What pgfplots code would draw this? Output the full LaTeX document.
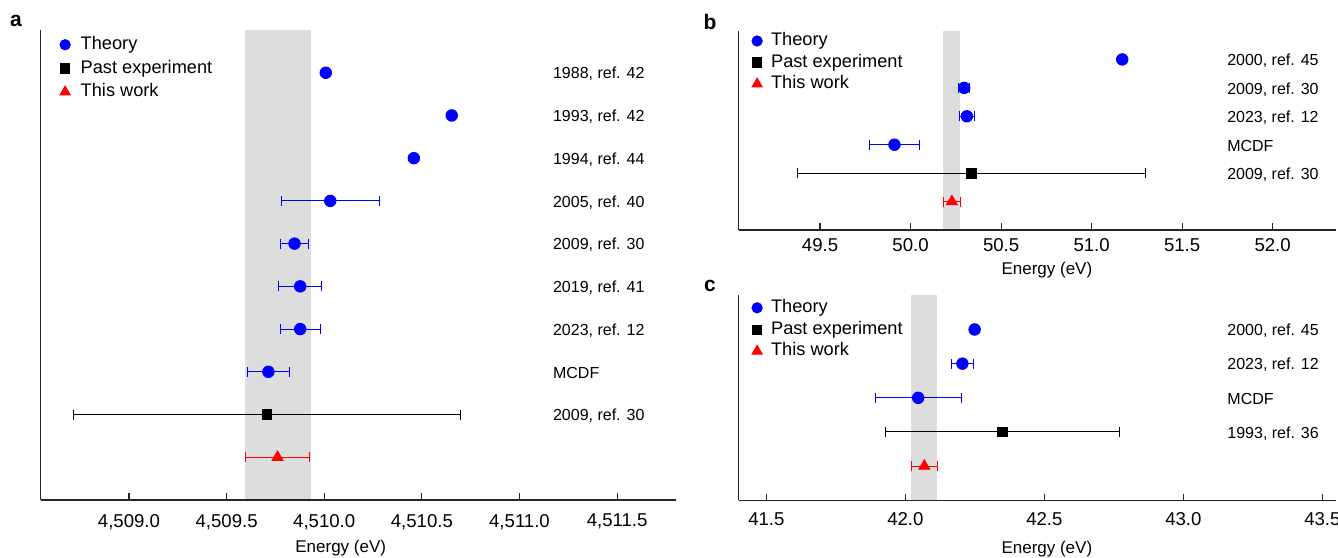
\documentclass[border=0pt]{standalone}
\usepackage{fontspec}
\setmainfont{Liberation Sans}
\usepackage{pgfplots}
\pgfplotsset{compat=1.18}
\usepackage{pgfplotstable}

\definecolor{bandgray}{RGB}{221,221,221}

% panel a
\pgfplotstableread{
y x ex
10 4510.008 0
9 4510.653 0
8 4510.459 0
7 4510.031 0.252
6 4509.848 0.072
5 4509.877 0.110
4 4509.877 0.103
3 4509.714 0.108
}\atheory
\pgfplotstableread{
y x ex
2 4509.707 0.990
}\apast
\pgfplotstableread{
y x ex
1 4509.761 0.166
}\awork

% panel b
\pgfplotstableread{
y x ex
6 51.169 0
5 50.296 0.030
4 50.311 0.040
3 49.911 0.140
}\btheory
\pgfplotstableread{
y x ex
2 50.337 0.960
}\bpast
\pgfplotstableread{
y x ex
1 50.228 0.046
}\bwork

% panel c
\pgfplotstableread{
y x ex
5 42.249 0
4 42.205 0.040
3 42.046 0.154
}\ctheory
\pgfplotstableread{
y x ex
2 42.349 0.420
}\cpast
\pgfplotstableread{
y x ex
1 42.068 0.047
}\cwork

\tikzset{
  rowlabel/.style={anchor=west, inner sep=0pt, yshift=-0.7pt, font=\fontsize{8}{9.6}\selectfont},
}

\pgfplotsset{
  panel/.style={
    scale only axis, axis lines*=left, ymin=0, ytick=\empty,
    axis line style={line width=0.6pt, black!85},
    tick style={line width=0.6pt, black!85},
    major tick length=3.3pt, tick align=inside,
    scaled x ticks=false, axis on top, clip=false,
    xticklabel style={font=\fontsize{9.3}{11}\selectfont,
      /pgf/number format/fixed, /pgf/number format/fixed zerofill,
      /pgf/number format/precision=1,
      /pgf/number format/assume math mode=true},
    xlabel={Energy (eV)},
    xlabel style={font=\fontsize{8.5}{10}\selectfont, anchor=center},
    legend cell align=left,
    legend style={draw=none, fill=none, anchor=north west,
      font=\fontsize{9.1}{11}\selectfont, inner sep=0pt, outer sep=0pt},
  },
  theory/.style={only marks, mark=*, blue, mark size=2.9pt, forget plot,
    error bars/.cd, x dir=both, x explicit,
    error bar style={line width=0.5pt, blue},
    error mark options={rotate=90, mark size=2.5pt, line width=0.5pt, blue}},
  past/.style={only marks, mark=square*, black, mark size=2.4pt, forget plot,
    error bars/.cd, x dir=both, x explicit,
    error bar style={line width=0.5pt, black},
    error mark options={rotate=90, mark size=2.5pt, line width=0.5pt, black}},
  work/.style={only marks, mark=triangle*, red, mark size=3.2pt, forget plot,
    error bars/.cd, x dir=both, x explicit,
    error bar style={line width=0.5pt, red},
    error mark options={rotate=90, mark size=2.5pt, line width=0.5pt, red}},
}

\newcommand{\legendimages}{%
  \addlegendimage{only marks, mark=*, blue, mark size=2.6pt}
  \addlegendentry{Theory}
  \addlegendimage{only marks, mark=square*, black, mark size=2.3pt}
  \addlegendentry{Past experiment}
  \addlegendimage{only marks, mark=triangle*, red, mark size=3.0pt}
  \addlegendentry{This work}
}

\begin{document}
\begin{tikzpicture}
\useasboundingbox (0,0) rectangle (669pt,278.5pt);

% ---------- a ----------
\begin{axis}[panel,
  at={(20.25pt,28.5pt)}, anchor=south west,
  width=317.6pt, height=235pt,
  xmin=4508.547, xmax=4511.80, ymax=11,
  xtick={4509.0,4509.5,4510.0,4510.5,4511.0,4511.5},
  xticklabel style={yshift=-3.5pt, /pgf/number format/1000 sep={,}},
  xlabel style={at={(axis description cs:0.4726,0)}, yshift=-24pt},
  legend style={at={(axis description cs:0.0306,0.9867)}, row sep=3.3pt,
    nodes={inner xsep=5.2pt, inner ysep=0pt, text height=6.6pt, text depth=1.9pt}},
]
\addplot[draw=none, fill=bandgray, forget plot] coordinates
  {(4509.596,0) (4509.930,0) (4509.930,11) (4509.596,11)} -- cycle;
\addplot[theory] table[x=x, y=y, x error=ex] {\atheory};
\addplot[past] table[x=x, y=y, x error=ex] {\apast};
\addplot[work] table[x=x, y=y, x error=ex] {\awork};
\legendimages
\node[rowlabel] at (axis cs:4511.17,10) {1988, ref. 42};
\node[rowlabel] at (axis cs:4511.17,9) {1993, ref. 42};
\node[rowlabel] at (axis cs:4511.17,8) {1994, ref. 44};
\node[rowlabel] at (axis cs:4511.17,7) {2005, ref. 40};
\node[rowlabel] at (axis cs:4511.17,6) {2009, ref. 30};
\node[rowlabel] at (axis cs:4511.17,5) {2019, ref. 41};
\node[rowlabel] at (axis cs:4511.17,4) {2023, ref. 12};
\node[rowlabel] at (axis cs:4511.17,3) {MCDF};
\node[rowlabel] at (axis cs:4511.17,2) {2009, ref. 30};
\end{axis}
\node[font=\fontsize{10.5}{12}\selectfont\bfseries] at (8pt,268.15pt) {a};

% ---------- b ----------
\begin{axis}[panel,
  at={(369.3pt,163.5pt)}, anchor=south west,
  width=298.7pt, height=99.5pt,
  xmin=49.05, xmax=52.35, ymax=7,
  xtick={49.5,50.0,50.5,51.0,51.5,52.0},
  xticklabel style={yshift=-0.65pt},
  xlabel style={at={(axis description cs:0.516,0)}, yshift=-20pt},
  legend style={at={(axis description cs:0.0223,0.9925)}, row sep=2.25pt,
    nodes={inner xsep=4.4pt, inner ysep=0pt, text height=6.6pt, text depth=1.9pt}},
]
\addplot[draw=none, fill=bandgray, forget plot] coordinates
  {(50.181,0) (50.275,0) (50.275,7) (50.181,7)} -- cycle;
\addplot[theory] table[x=x, y=y, x error=ex] {\btheory};
\addplot[past] table[x=x, y=y, x error=ex] {\bpast};
\addplot[work] table[x=x, y=y, x error=ex] {\bwork};
\legendimages
\node[rowlabel] at (axis cs:51.747,6) {2000, ref. 45};
\node[rowlabel] at (axis cs:51.747,5) {2009, ref. 30};
\node[rowlabel] at (axis cs:51.747,4) {2023, ref. 12};
\node[rowlabel] at (axis cs:51.747,3) {MCDF};
\node[rowlabel] at (axis cs:51.747,2) {2009, ref. 30};
\end{axis}
\node[font=\fontsize{10.5}{12}\selectfont\bfseries] at (355pt,267.65pt) {b};

% ---------- c ----------
\begin{axis}[panel,
  at={(369.3pt,28.35pt)}, anchor=south west,
  width=298.7pt, height=102.5pt,
  xmin=41.40, xmax=43.549, ymax=6,
  xtick={41.5,42.0,42.5,43.0,43.5},
  xticklabel style={yshift=-2.7pt},
  xlabel style={at={(axis description cs:0.516,0)}, yshift=-24.2pt},
  legend style={at={(axis description cs:0.0223,0.9805)}, row sep=2.35pt,
    nodes={inner xsep=4.4pt, inner ysep=0pt, text height=6.6pt, text depth=1.9pt}},
]
\addplot[draw=none, fill=bandgray, forget plot] coordinates
  {(42.021,0) (42.115,0) (42.115,6) (42.021,6)} -- cycle;
\addplot[theory] table[x=x, y=y, x error=ex] {\ctheory};
\addplot[past] table[x=x, y=y, x error=ex] {\cpast};
\addplot[work] table[x=x, y=y, x error=ex] {\cwork};
\legendimages
\node[rowlabel] at (axis cs:43.157,5) {2000, ref. 45};
\node[rowlabel] at (axis cs:43.157,4) {2023, ref. 12};
\node[rowlabel] at (axis cs:43.157,3) {MCDF};
\node[rowlabel] at (axis cs:43.157,2) {1993, ref. 36};
\end{axis}
\node[font=\fontsize{10.5}{12}\selectfont\bfseries] at (355pt,135.35pt) {c};
\end{tikzpicture}
\end{document}
